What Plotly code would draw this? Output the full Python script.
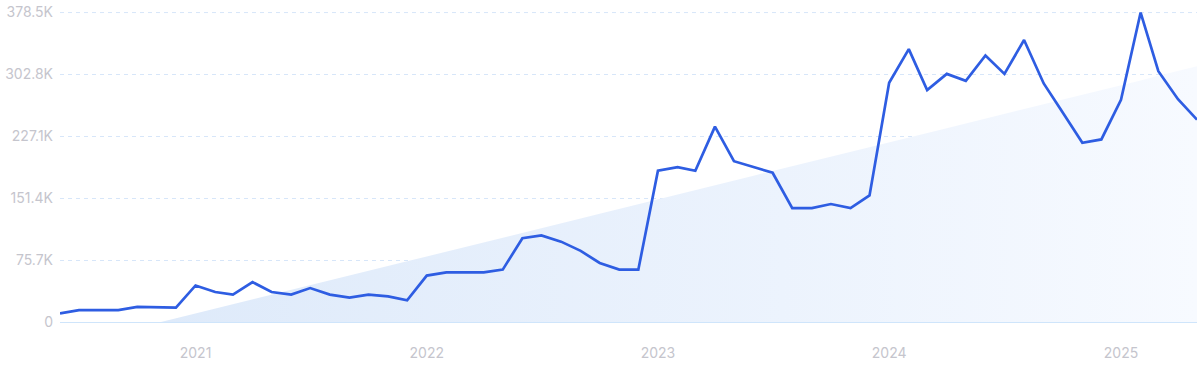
import numpy as np
import pandas as pd
import plotly.graph_objects as go

# Monthly values (Jun 2020 - May 2025)
months = pd.date_range("2020-06-01", "2025-05-01", freq="MS")
values = [
    10.5, 14.5, 14.5, 14.5, 18.5, 18.5, 17.7,
    44.7, 36.7, 33.5, 48.8, 36.7, 33.5, 41.5, 33.5, 29.9, 33.5, 31.4, 26.6,
    56.8, 60.8, 60.8, 60.8, 64.1, 102.4, 106.0, 98.3, 87.0, 72.2, 64.1, 64.0,
    185.0, 189.5, 185.0, 239.0, 196.7, 189.5, 182.6, 139.4, 139.4, 144.3, 139.4, 154.8,
    292.6, 333.8, 283.8, 303.5, 295.0, 326.1, 303.5, 345.0, 291.8, 256.4, 219.3, 223.3,
    271.7, 378.5, 306.8, 272.5, 247.5,
]
values = [v * 1000 for v in values]

y_ticks = [0, 75700, 151400, 227100, 302800, 378500]
y_tick_labels = ["0", "75.7K", "151.4K", "227.1K", "302.8K", "378.5K"]
x_ticks = ["2021-01-01", "2022-01-01", "2023-01-01", "2024-01-01", "2025-01-01"]
x_tick_labels = ["2021", "2022", "2023", "2024", "2025"]

# Linear trend of the series, clipped at zero
idx = np.arange(len(values))
a, b = np.polyfit(idx, values, 1)
t0 = -b / a
i0 = int(np.floor(t0))
f0 = t0 - i0
cross_date = months[i0] + (months[i0 + 1] - months[i0]) * f0
trend_x = [cross_date] + list(months[i0 + 1:])
trend_y = [0.0] + [a * i + b for i in idx[i0 + 1:]]

fig = go.Figure()
fig.add_trace(go.Scatter(
    x=trend_x, y=trend_y, mode="lines", line=dict(width=0),
    fill="tozeroy",
    fillgradient=dict(type="horizontal",
                      colorscale=[[0, "rgb(222,234,250)"], [0.6, "rgb(236,243,253)"],
                                  [1, "rgb(247,250,255)"]]),
    hoverinfo="skip", showlegend=False,
))
fig.add_trace(go.Scatter(
    x=months, y=values, mode="lines",
    line=dict(color="#2e5de2", width=2.7),
    showlegend=False, cliponaxis=False,
))

# top gridline (plotly omits the gridline at the very edge)
fig.add_hline(y=y_ticks[-1], line=dict(color="#d7e6f9", width=1, dash="4px,4px"),
              layer="below")

fig.update_layout(
    width=1200, height=371,
    margin=dict(l=60, r=3, t=8, b=49),
    paper_bgcolor="white", plot_bgcolor="white",
    font=dict(family="Inter, sans-serif", size=14, color="#c5c5cd"),
    xaxis=dict(
        type="date", range=["2020-06-01", "2025-05-01"],
        tickvals=x_ticks, ticktext=x_tick_labels,
        showgrid=False, zeroline=False, showline=False, ticks="",
        ticklabelstandoff=21,
    ),
    yaxis=dict(
        range=[0, 379200], tickvals=y_ticks, ticktext=y_tick_labels,
        showgrid=True, gridcolor="#d7e6f9", griddash="4px,4px", gridwidth=1,
        zeroline=True, zerolinecolor="#cfe5fb", zerolinewidth=1,
        showline=False, ticks="", ticklabelstandoff=6,
        ticklabeloverflow="allow",
    ),
)

fig.write_html("out.html")
